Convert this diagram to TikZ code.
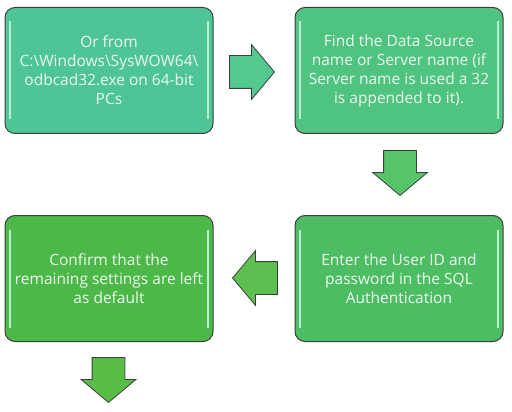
\documentclass[tikz,border=0pt]{standalone}
\usepackage{fontspec}
\setmainfont{Open Sans}
\usetikzlibrary{shapes.arrows}
\definecolor{boxline}{HTML}{3A3F3C}
\definecolor{boxtext}{HTML}{EEF8F1}
\definecolor{shine}{HTML}{B9EFCF}
\definecolor{mintfill}{HTML}{4EC597}
\definecolor{seafill}{HTML}{4FC380}
\definecolor{grassfill}{HTML}{4CB847}
\definecolor{leaffill}{HTML}{4DBD63}
\definecolor{mintarrow}{HTML}{52C98E}
\definecolor{seaarrow}{HTML}{57C46A}
\definecolor{grassarrow}{HTML}{5BC04F}
\definecolor{leafarrow}{HTML}{58BD47}
\begin{document}
\begin{tikzpicture}[unit length/.code={{\newdimen\tikzunit}\setlength{\tikzunit}{#1}},unit length=1pt,x=\tikzunit,y=\tikzunit,box/.style={rectangle,draw=boxline,line width=1pt,rounded corners=10\tikzunit,text=boxtext,align=center,inner sep=0,minimum width=208\tikzunit,minimum height=126\tikzunit,font=\fontsize{15.5}{19}\selectfont,path picture={\draw[shine,line width=2pt] ([shift={(5,-14)}]path picture bounding box.north west) -- ([shift={(5,14)}]path picture bounding box.south west); \draw[shine,line width=2pt] ([shift={(-5,-14)}]path picture bounding box.north east) -- ([shift={(-5,14)}]path picture bounding box.south east);}},step arrow/.style={single arrow,draw=boxline,line width=0.8pt,inner xsep=0,inner ysep=16\tikzunit,minimum height=45\tikzunit,single arrow head extend=11\tikzunit,single arrow tip angle=100,single arrow head indent=0,anchor=tip},down arrow/.style={step arrow,inner xsep=16\tikzunit,inner ysep=0,shape border rotate=270}]
  \useasboundingbox (0,0) rectangle (512,-412);
  \node[box,fill=mintfill] (n1) at (109,-70.5) {Or from\\C:\textbackslash Windows\textbackslash SysWOW64\textbackslash\\odbcad32.exe on 64-bit\\PCs};
  \node[box,fill=seafill] (n2) at (399,-70.5) {Find the Data Source\\name or Server name (if\\Server name is used a 32\\is appended to it).};
  \node[box,fill=leaffill] (n3) at (399,-278.5) {Enter the User ID and\\password in the SQL\\Authentication};
  \node[box,fill=grassfill] (n4) at (109,-278.5) {Confirm that the\\remaining settings are left\\as default};
  \node[step arrow,fill=mintarrow,shape border rotate=0] (a1) at (275,-72) {};
  \node[down arrow,fill=seaarrow] (a2) at (400,-196) {};
  \node[step arrow,fill=grassarrow,shape border rotate=180] (a3) at (232,-278) {};
  \node[down arrow,fill=leafarrow] (a4) at (108.5,-403) {};
\end{tikzpicture}
\end{document}
